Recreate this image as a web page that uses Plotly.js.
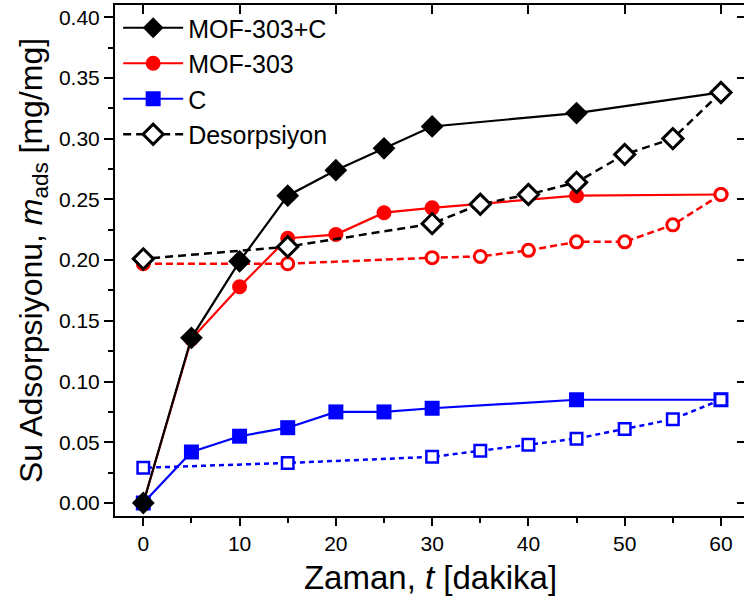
<!DOCTYPE html>
<html>
<head>
<meta charset="utf-8">
<script src="https://cdn.plot.ly/plotly-3.0.1.min.js"></script>
<style>
html,body{margin:0;padding:0;overflow:hidden;background:#fff;}
#chart{width:750px;height:608px;}
</style>
</head>
<body>
<div id="chart"></div>
<script>
// Adsorption time points (dakika)
const tAds = [0, 5, 10, 15, 20, 25, 30, 45, 60];
// Desorption time points
const tDes = [60, 55, 50, 45, 40, 35, 30, 15, 0];

const mofC_ads = [0.0, 0.136, 0.199, 0.253, 0.274, 0.292, 0.310, 0.321, 0.338];
const mof_ads  = [0.0, 0.135, 0.178, 0.218, 0.221, 0.239, 0.243, 0.253, 0.254];
const c_ads    = [0.0, 0.042, 0.055, 0.062, 0.075, 0.075, 0.078, 0.085, 0.085];

const mofC_des = [0.338, 0.300, 0.287, 0.264, 0.254, 0.246, 0.230, 0.211, 0.201];
const mof_des  = [0.254, 0.229, 0.215, 0.215, 0.208, 0.203, 0.202, 0.197, 0.197];
const c_des    = [0.085, 0.069, 0.061, 0.053, 0.048, 0.043, 0.038, 0.033, 0.029];

const names = ['MOF-303+C', 'MOF-303', 'C', 'Desorpsiyon'];

const font = 'Liberation Sans, Arial, sans-serif';

const traces = [
  {x: tAds, y: c_ads, name: names[2], legendrank: 3, mode: 'lines+markers',
   line: {color: '#0000ff', width: 2.2},
   marker: {symbol: 'square', size: 15, color: '#0000ff'}},
  {x: tDes, y: c_des, name: 'C des', showlegend: false, mode: 'lines+markers',
   line: {color: '#0000ff', width: 2.5, dash: '5px,4px'},
   marker: {symbol: 'square', size: 11.5, color: '#ffffff', line: {color: '#0000ff', width: 2.5}}},
  {x: tAds, y: mof_ads, name: names[1], legendrank: 2, mode: 'lines+markers',
   line: {color: '#ff0000', width: 2.2},
   marker: {symbol: 'circle', size: 15, color: '#ff0000'}},
  {x: tDes, y: mof_des, name: 'MOF des', showlegend: false, mode: 'lines+markers',
   line: {color: '#ff0000', width: 2.5, dash: '7px,4px'},
   marker: {symbol: 'circle', size: 12, color: '#ffffff', line: {color: '#ff0000', width: 3}}},
  {x: tAds, y: mofC_ads, name: names[0], legendrank: 1, mode: 'lines+markers',
   line: {color: '#000000', width: 2.2},
   marker: {symbol: 'diamond', size: 17.5, color: '#000000'}},
  {x: tDes, y: mofC_des, name: names[3], legendrank: 4, mode: 'lines+markers',
   line: {color: '#000000', width: 2.5, dash: '8px,5px'},
   marker: {symbol: 'diamond', size: 15.5, color: '#ffffff', line: {color: '#000000', width: 3}}},
  {x: [], y: [], xaxis: 'x2', yaxis: 'y2', showlegend: false, hoverinfo: 'skip'}
];

const xr = [-2.94, 62.6];
const yr = [-0.0107, 0.41];

const layout = {
  width: 750, height: 608,
  margin: {l: 115, r: 4, t: 5, b: 92},
  paper_bgcolor: '#ffffff', plot_bgcolor: '#ffffff',
  font: {family: font, color: '#000000'},
  showlegend: true,
  legend: {
    x: 0.005, y: 1.0, xanchor: 'left', yanchor: 'top',
    bgcolor: 'rgba(0,0,0,0)', borderwidth: 0,
    font: {family: font, size: 25, color: '#000000'},
    itemwidth: 60, tracegroupgap: 0
  },
  xaxis: {
    range: xr, showgrid: false, zeroline: false,
    showline: true, linecolor: '#000', linewidth: 2,
    ticks: 'outside', ticklen: 8, tickwidth: 2, tickcolor: '#000',
    tick0: 0, dtick: 10,
    minor: {ticks: 'outside', ticklen: 5, tickwidth: 2, tickcolor: '#000', dtick: 5, tick0: 0, showgrid: false},
    tickfont: {family: font, size: 21},
    title: {text: 'Zaman, <i>t</i> [dakika]', font: {family: font, size: 33}, standoff: 12}
  },
  yaxis: {
    range: yr, showgrid: false, zeroline: false,
    showline: true, linecolor: '#000', linewidth: 2,
    ticks: 'outside', ticklen: 9, tickwidth: 2, tickcolor: '#000',
    tick0: 0, dtick: 0.05, tickformat: '.2f',
    minor: {ticks: 'outside', ticklen: 5, tickwidth: 2, tickcolor: '#000', dtick: 0.025, tick0: 0, showgrid: false},
    tickfont: {family: font, size: 21},
    title: {text: 'Su Adsorpsiyonu, <i>m</i><sub>ads</sub> [mg/mg]', font: {family: font, size: 32}, standoff: 7}
  },
  xaxis2: {
    overlaying: 'x', matches: 'x', side: 'top', anchor: 'y2', range: xr,
    showgrid: false, zeroline: false, showline: true, linecolor: '#000', linewidth: 2,
    ticks: 'inside', ticklen: 9, tickwidth: 2, tickcolor: '#000',
    tick0: 0, dtick: 10, showticklabels: false
  },
  yaxis2: {
    overlaying: 'y', matches: 'y', side: 'right', anchor: 'x2', range: yr,
    showgrid: false, zeroline: false, showline: true, linecolor: '#000', linewidth: 2,
    ticks: 'inside', ticklen: 9, tickwidth: 2, tickcolor: '#000',
    tick0: 0, dtick: 0.05, showticklabels: false
  }
};

Plotly.newPlot('chart', traces, layout, {displayModeBar: false, staticPlot: true});
</script>
</body>
</html>
